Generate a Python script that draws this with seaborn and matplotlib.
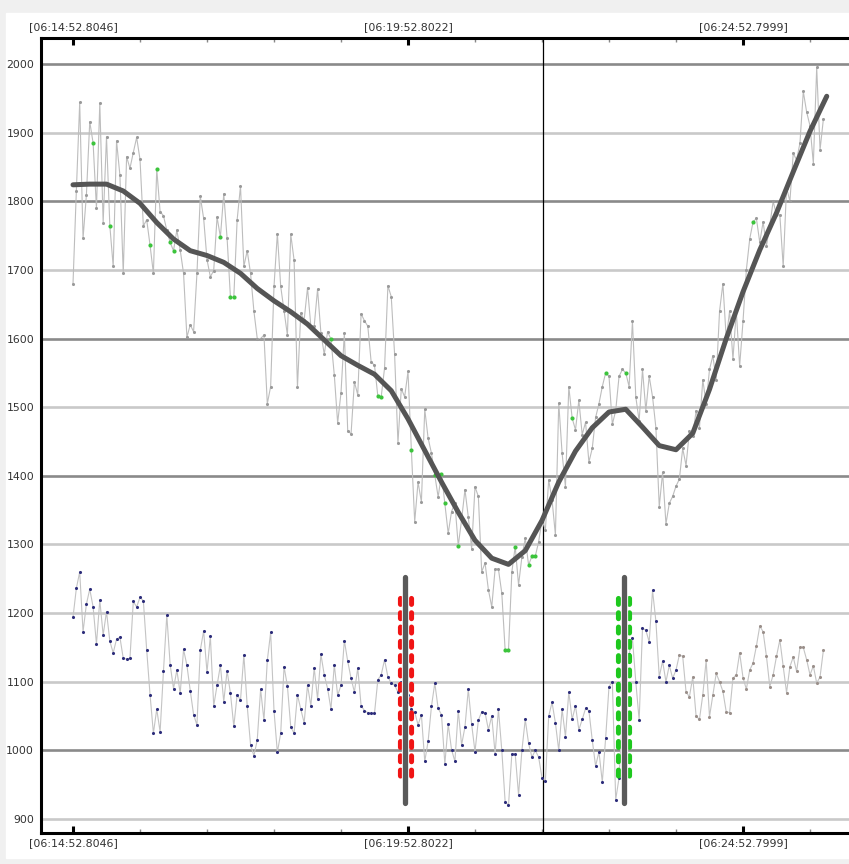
import numpy as np
import pandas as pd
import matplotlib
matplotlib.use("Agg")
import matplotlib.pyplot as plt
import matplotlib.transforms as mtransforms
from matplotlib.patches import Rectangle
from matplotlib.ticker import FixedLocator, MultipleLocator
import seaborn as sns

sns.set_style("white")
plt.rcParams['font.family'] = ['DejaVu Sans']
plt.rcParams['lines.scale_dashes'] = False

# ---- data ----
sample_step_s = 3                      # one sample every 3 s
time_tick_s = [0, 300, 600]
time_tick_labels = ["[06:14:52.8046]", "[06:19:52.8022]", "[06:24:52.7999]"]
cursor_s = 421
red_marker_s = 297.5
green_marker_s = 493

upper_values = [
    1680, 1815, 1944, 1746, 1809, 1916, 1885, 1790, 1943, 1769,
    1894, 1764, 1705, 1888, 1838, 1695, 1865, 1848, 1871, 1893,
    1861, 1764, 1773, 1736, 1695, 1847, 1785, 1779, 1758, 1740,
    1728, 1758, 1729, 1695, 1602, 1620, 1610, 1695, 1807, 1775,
    1715, 1690, 1699, 1777, 1748, 1811, 1746, 1660, 1660, 1773,
    1822, 1705, 1728, 1695, 1640, 1600, 1600, 1605, 1505, 1530,
    1676, 1753, 1676, 1640, 1605, 1752, 1714, 1529, 1637, 1627,
    1674, 1618, 1618, 1672, 1608, 1577, 1610, 1599, 1547, 1477,
    1521, 1608, 1466, 1461, 1537, 1518, 1636, 1626, 1618, 1566,
    1561, 1516, 1515, 1557, 1677, 1661, 1577, 1448, 1527, 1515,
    1552, 1438, 1333, 1391, 1362, 1497, 1455, 1433, 1401, 1369,
    1403, 1360, 1316, 1348, 1360, 1298, 1336, 1380, 1340, 1294,
    1384, 1370, 1260, 1273, 1234, 1209, 1264, 1264, 1229, 1146,
    1146, 1260, 1297, 1241, 1282, 1309, 1270, 1283, 1283, 1304,
    1336, 1321, 1394, 1365, 1314, 1506, 1433, 1384, 1530, 1484,
    1467, 1510, 1460, 1478, 1420, 1440, 1485, 1505, 1530, 1550,
    1545, 1475, 1495, 1545, 1555, 1550, 1530, 1625, 1515, 1480,
    1555, 1495, 1545, 1515, 1470, 1355, 1405, 1330, 1360, 1370,
    1385, 1395, 1440, 1415, 1465, 1458, 1495, 1470, 1540, 1505,
    1555, 1575, 1540, 1640, 1680, 1600, 1640, 1570, 1640, 1560,
    1625, 1700, 1745, 1770, 1775, 1740, 1770, 1735, 1765, 1800,
    1780, 1780, 1705, 1820, 1800, 1870, 1860, 1885, 1960, 1930,
    1910, 1855, 1995, 1875, 1920,
]

# samples drawn with a green marker in the upper series
upper_flagged = [6, 11, 23, 25, 29, 30, 44, 47, 48, 77, 91, 92, 101, 108, 110,
                 111, 115, 129, 130, 132, 136, 137, 138, 149, 159, 165, 203]

lower_values = [
    1194, 1236, 1260, 1173, 1213, 1235, 1209, 1155, 1219, 1168,
    1202, 1159, 1142, 1162, 1165, 1134, 1133, 1134, 1217, 1209,
    1223, 1218, 1146, 1081, 1025, 1060, 1027, 1115, 1197, 1125,
    1090, 1117, 1083, 1147, 1124, 1087, 1052, 1037, 1146, 1174,
    1114, 1166, 1065, 1095, 1124, 1071, 1116, 1083, 1035, 1081,
    1073, 1139, 1065, 1008, 992, 1015, 1089, 1044, 1131, 1172,
    1058, 997, 1025, 1122, 1094, 1034, 1025, 1081, 1060, 1040,
    1095, 1065, 1120, 1075, 1140, 1110, 1090, 1060, 1125, 1080,
    1095, 1160, 1130, 1105, 1085, 1120, 1065, 1058, 1055, 1054,
    1054, 1103, 1110, 1132, 1107, 1098, 1095, 1085, 1100, 1070,
    1080, 1060, 1056, 1037, 1052, 984, 1013, 1064, 1098, 1061,
    1052, 980, 1038, 1001, 984, 1058, 1008, 1034, 1089, 1038,
    998, 1044, 1056, 1055, 1030, 1050, 995, 1060, 1000, 925,
    920, 995, 995, 935, 1000, 1045, 1010, 990, 1000, 990,
    960, 955, 1050, 1070, 1040, 1000, 1060, 1020, 1085, 1045,
    1065, 1030, 1045, 1061, 1058, 1015, 977, 998, 954, 1018,
    1093, 1100, 928, 960, 1050, 1120, 1140, 1163, 1100, 1044,
    1178, 1175, 1158, 1233, 1188, 1107, 1130, 1100, 1124, 1105,
    1117, 1139, 1137, 1085, 1078, 1107, 1050, 1045, 1081, 1131,
    1049, 1081, 1112, 1100, 1086, 1056, 1055, 1105, 1110, 1142,
    1106, 1089, 1117, 1127, 1152, 1181, 1173, 1137, 1093, 1110,
    1137, 1161, 1123, 1084, 1122, 1136, 1115, 1150, 1150, 1132,
    1110, 1123, 1098, 1107, 1146,
]
lower_dark_until = 180   # lower markers are navy up to this sample

# smoothed trend of the upper series, one value every 15 s
trend_step_s = 15
trend_values = [
    1824, 1825, 1825, 1815, 1797, 1769, 1745, 1728, 1721, 1711,
    1695, 1673, 1655, 1639, 1621, 1598, 1575, 1561, 1548, 1524,
    1483, 1437, 1391, 1347, 1306, 1280, 1271, 1291, 1335, 1391,
    1436, 1470, 1493, 1497, 1471, 1444, 1438, 1462, 1526, 1600,
    1668, 1729, 1783, 1843, 1902, 1953,
]

# vertical event markers: bar extent and dashed band extent
bar_range = (1252, 924)
band_range = (1222, 958)

y_ticks = list(range(900, 2001, 100))
y_dark = [2000, 1800, 1600, 1400, 1000]

# ---- build frames ----
t = np.arange(len(upper_values)) * sample_step_s
df = pd.DataFrame({"t": t, "upper": upper_values, "lower": lower_values})
df["flag"] = df.index.isin(upper_flagged)
trend = pd.DataFrame({"t": np.arange(len(trend_values)) * trend_step_s,
                      "v": trend_values})

# ---- figure ----
W, H = 849, 864
fig = plt.figure(figsize=(W / 100, H / 100), dpi=100, facecolor="#f0f0f0")
panel = Rectangle((6 / W, 6 / H), 1, (858 - 13) / H,
                  transform=fig.transFigure, color="white", zorder=-5)
fig.add_artist(panel)

ax = fig.add_axes([41 / W, (H - 833) / H, (870 - 41) / W, (833 - 38) / H])
ax.set_facecolor("white")

px_per_s = 335 / 300
ax.set_xlim(-32 / px_per_s, (870 - 73) / px_per_s)
ax.set_ylim(879.6, 2037.9)

for v in y_ticks:
    dark = v in y_dark
    ax.axhline(v, color="#8a8a8a" if dark else "#c9c9c9", lw=1.9, zorder=0.5)

# cursor
ax.axvline(cursor_s, color="black", lw=0.9, zorder=1)

# upper series
sns.lineplot(data=df, x="t", y="upper", ax=ax, color="#bdbdbd", lw=0.8,
             estimator=None, zorder=2)
sns.scatterplot(data=df[~df.flag], x="t", y="upper", ax=ax, color="#9a9a9a",
                s=5, linewidth=0, zorder=3)
sns.scatterplot(data=df[df.flag], x="t", y="upper", ax=ax, color="#3cc43c",
                s=9, linewidth=0, zorder=3)

# lower series
sns.lineplot(data=df, x="t", y="lower", ax=ax, color="#c4c4c4", lw=0.8,
             estimator=None, zorder=2)
sns.scatterplot(data=df[df.index <= lower_dark_until], x="t", y="lower", ax=ax,
                color="#2c2c7a", s=5, linewidth=0, zorder=3)
sns.scatterplot(data=df[df.index > lower_dark_until], x="t", y="lower", ax=ax,
                color="#9a8f8a", s=5, linewidth=0, zorder=3)

# smoothed trend
sns.lineplot(data=trend, x="t", y="v", ax=ax, color="#555555", lw=3.6,
             estimator=None, solid_capstyle="round", solid_joinstyle="round",
             zorder=4)


def event_marker(ts, color):
    for dx in (-3.9, 3.9):
        tr = mtransforms.offset_copy(ax.transData, fig=fig, x=dx, y=0, units="points")
        ax.plot([ts, ts], band_range, transform=tr, color=color, lw=3.7,
                dashes=(4.2, 6.1), dash_capstyle="round", zorder=5)
    ax.plot([ts, ts], bar_range, color="white", lw=5.2,
            solid_capstyle="round", zorder=6)
    ax.plot([ts, ts], bar_range, color="#5a5a5a", lw=3.8,
            solid_capstyle="round", zorder=7)


event_marker(red_marker_s, "#f01414")
event_marker(green_marker_s, "#1ec81e")

# ---- axes styling ----
ax.set(xlabel="", ylabel="")
for side in ("left", "top", "bottom"):
    ax.spines[side].set_visible(True)
    ax.spines[side].set_color("black")
    ax.spines[side].set_linewidth(2.2)
ax.spines["right"].set_visible(False)

ax.set_yticks(y_ticks)
ax.set_yticklabels([str(v) for v in y_ticks])
ax.tick_params(axis="y", length=0, pad=5, labelsize=7.8, labelcolor="#333333")

ax.xaxis.set_major_locator(FixedLocator(time_tick_s))
ax.set_xticklabels(time_tick_labels)
ax.xaxis.set_minor_locator(MultipleLocator(60))
ax.tick_params(axis="x", which="major", direction="in", length=5, width=2.2,
               color="black", top=True, bottom=True, labeltop=True,
               labelbottom=True, labelsize=7.9, labelcolor="#333333", pad=4)
ax.tick_params(axis="x", which="minor", direction="in", length=3, width=1,
               color="#888888", top=True, bottom=True)

fig.savefig("out.png", dpi=100, facecolor=fig.get_facecolor())
